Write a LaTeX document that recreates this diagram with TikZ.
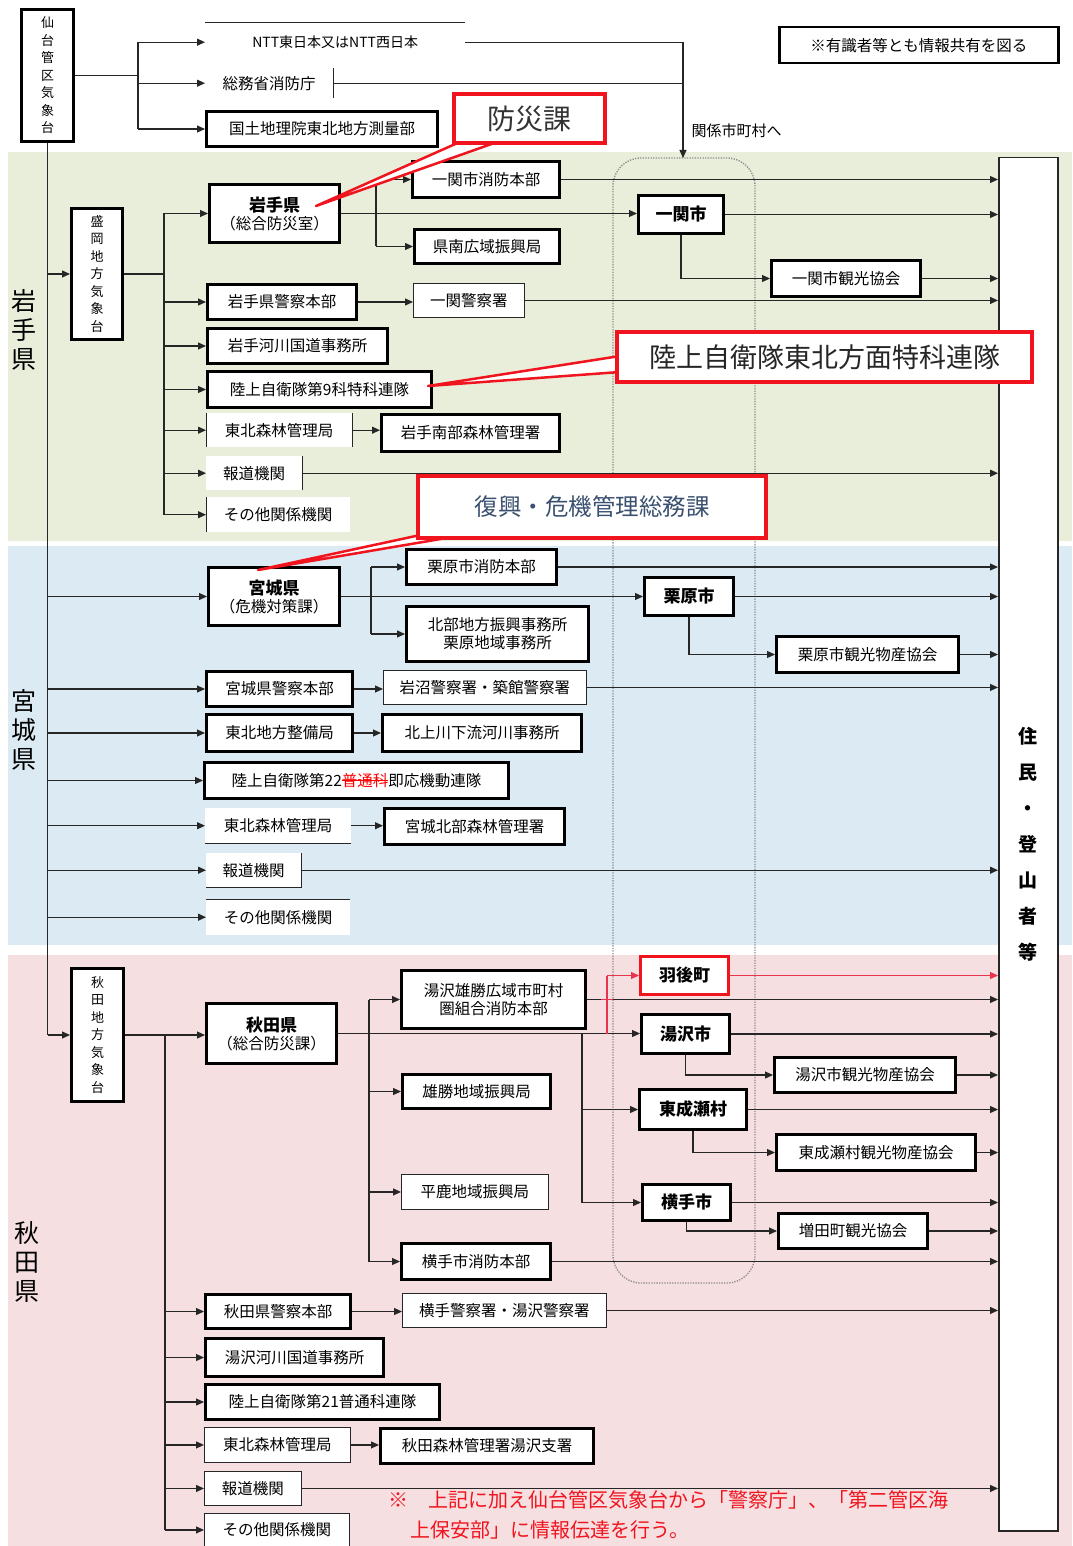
\documentclass[tikz,border=0pt]{standalone}
\usepackage{fontspec}
\setmainfont{Noto Sans CJK JP}
\usetikzlibrary{arrows.meta,calc}
\definecolor{bgG}{RGB}{232,238,218}
\definecolor{bgB}{RGB}{220,235,243}
\definecolor{bgP}{RGB}{246,223,225}
\definecolor{calRed}{RGB}{240,20,30}
\definecolor{pinkRed}{RGB}{232,52,78}
\definecolor{fukkoText}{RGB}{58,80,112}
\newcommand\bx[7]{\node[#6, anchor=north west, minimum width={(#4-#2)*1pt}, minimum height={(#5-#3)*1pt}] (#1) at (#2,#3) {#7};}
\newcommand\strk[1]{\leavevmode\setbox0\hbox{#1}\rlap{\textcolor{red}{\rule[0.33em]{\wd0}{0.9pt}}}\textcolor{red}{#1}}
\tikzset{
 boxbase/.style={inner sep=1pt, align=center, fill=white, font=\fontsize{15.5}{18}\selectfont},
 tbox/.style={boxbase, draw=black, line width=3pt},
 nbox/.style={boxbase, draw=black!85, line width=0.9pt},
 pbox/.style={boxbase},
 vbox/.style={tbox, font=\fontsize{13}{17.5}\selectfont},
 cbox/.style={tbox, font=\fontsize{17}{20}\selectfont\bfseries},
 ln/.style={line width=1.1pt, draw=black!85},
 bar/.style={line width=1pt, draw=black!85},
 arr/.style={ln, -{Triangle[length=8pt,width=7pt]}},
 redarr/.style={line width=1.1pt, draw=pinkRed, fill=pinkRed, -{Triangle[length=8pt,width=7pt]}},
 redln/.style={line width=1.1pt, draw=pinkRed},
 callbox/.style={draw=calRed, line width=4pt, fill=white, inner sep=0pt},
 cwedge/.style={draw=calRed, fill=white, line width=2.5pt, line join=round},
 region/.style={font=\fontsize{25}{29}\selectfont, align=center, inner sep=0},
 dotbox/.style={draw=black!45, line width=1.3pt, dash pattern=on 1.3pt off 1.3pt, rounded corners=28pt},
}
\begin{document}
\begin{tikzpicture}[x=1pt,y=-1pt]
\useasboundingbox (0,0) rectangle (1072,1546);
\fill[white] (0,0) rectangle (1072,1546);
\fill[bgG] (8,152) rectangle (1072,541);
\fill[bgB] (8,546) rectangle (1072,945);
\fill[bgP] (8,955) rectangle (1072,1546);
\draw[dotbox] (613,158) rectangle (755,1283);

% region labels
\node[region] (lblIwate) at (24,330) {岩\\手\\県};
\node[region] (lblMiyagi) at (24,730) {宮\\城\\県};
\node[region] (lblAkita) at (27,1262) {秋\\田\\県};

% top
\bx{sendai}{20}{8}{72}{140}{vbox}{仙\\台\\管\\区\\気\\象\\台}
\bx{ntt}{205}{23}{465}{61}{pbox, fill=none, font=\fontsize{14}{17}\selectfont}{NTT東日本又はNTT西日本}
\bx{shobo}{205}{68}{333}{98}{pbox, fill=none}{総務省消防庁}
\bx{kokudo}{205}{110}{436}{145}{tbox}{国土地理院東北地方測量部}
\bx{note}{778}{26}{1057}{62}{tbox, line width=2.5pt}{※有識者等とも情報共有を図る}
\node[anchor=west, font=\fontsize{15}{18}\selectfont] (kankei) at (688,131) {関係市町村へ};

% right box
\bx{jumin}{998}{157}{1057}{1530}{nbox, line width=1.5pt, font=\fontsize{19}{36}\selectfont\bfseries}{住\\民\\・\\登\\山\\者\\等}

% Iwate
\bx{morioka}{70}{207}{121}{338}{vbox}{盛\\岡\\地\\方\\気\\象\\台}
\bx{iwate}{208}{183}{338}{241}{tbox}{{\fontsize{17}{20}\selectfont\bfseries 岩手県}\\（総合防災室）}
\bx{ichiFD}{411}{160}{558}{196}{tbox}{一関市消防本部}
\bx{kennan}{413}{228}{558}{262}{tbox}{県南広域振興局}
\bx{ichi}{637}{194}{722}{232}{cbox}{一関市}
\bx{ichiKan}{770}{259}{919}{295}{tbox}{一関市観光協会}
\bx{iwPol}{206}{283}{355}{318}{tbox}{岩手県警察本部}
\bx{ichiPol}{413}{283}{524}{317}{nbox}{一関警察署}
\bx{iwRiver}{206}{327}{386}{362}{tbox}{岩手河川国道事務所}
\bx{jsdf9}{206}{370}{430}{406}{tbox}{陸上自衛隊第9科特科連隊}
\bx{iwForest}{206}{413}{352}{447}{pbox}{東北森林管理局}
\bx{iwForest2}{380}{413}{558}{450}{tbox}{岩手南部森林管理署}
\bx{iwPress}{206}{456}{302}{490}{pbox}{報道機関}
\bx{iwOther}{206}{497}{350}{532}{pbox}{その他関係機関}

% Miyagi
\bx{miyagi}{207}{566}{338}{624}{tbox}{{\fontsize{17}{20}\selectfont\bfseries 宮城県}\\（危機対策課）}
\bx{kuriFD}{405}{548}{555}{583}{tbox}{栗原市消防本部}
\bx{hokubu}{405}{605}{587}{660}{tbox}{北部地方振興事務所\\栗原地域事務所}
\bx{kuri}{643}{576}{732}{614}{cbox}{栗原市}
\bx{kuriKan}{775}{635}{957}{671}{tbox}{栗原市観光物産協会}
\bx{myPol}{205}{670}{351}{705}{tbox}{宮城県警察本部}
\bx{myPol2}{383}{670}{586}{704}{nbox}{岩沼警察署・築館警察署}
\bx{tohokuSeibi}{205}{713}{351}{750}{tbox}{東北地方整備局}
\bx{kitakami}{381}{713}{580}{750}{tbox}{北上川下流河川事務所}
\bx{jsdf22}{203}{761}{507}{797}{tbox}{陸上自衛隊第22\strk{普通科}即応機動連隊}
\bx{myForest}{205}{808}{351}{843}{pbox}{東北森林管理局}
\bx{myForest2}{383}{807}{563}{843}{tbox}{宮城北部森林管理署}
\bx{myPress}{206}{853}{301}{887}{pbox}{報道機関}
\bx{myOther}{206}{899}{350}{935}{pbox}{その他関係機関}

% Akita
\bx{akitaMet}{70}{967}{122}{1100}{vbox}{秋\\田\\地\\方\\気\\象\\台}
\bx{akita}{205}{1002}{335}{1062}{tbox}{{\fontsize{17}{20}\selectfont\bfseries 秋田県}\\（総合防災課）}
\bx{yuzawaFD}{400}{969}{584}{1027}{tbox}{湯沢雄勝広域市町村\\圏組合消防本部}
\bx{ogachi}{401}{1073}{549}{1107}{tbox}{雄勝地域振興局}
\bx{hiraka}{401}{1174}{548}{1209}{nbox}{平鹿地域振興局}
\bx{yokoteFD}{400}{1242}{549}{1278}{tbox}{横手市消防本部}
\bx{ugo}{639}{955}{727}{993}{cbox, draw=calRed}{羽後町}
\bx{yuzawa}{640}{1013}{728}{1052}{cbox}{湯沢市}
\bx{yuzawaKan}{773}{1056}{954}{1091}{tbox}{湯沢市観光物産協会}
\bx{higashi}{638}{1088}{745}{1128}{cbox}{東成瀬村}
\bx{higashiKan}{775}{1133}{974}{1169}{tbox}{東成瀬村観光物産協会}
\bx{yokote}{641}{1183}{729}{1219}{cbox}{横手市}
\bx{masuda}{777}{1212}{926}{1247}{tbox}{増田町観光協会}
\bx{akPol}{204}{1293}{349}{1327}{tbox}{秋田県警察本部}
\bx{akPol2}{402}{1293}{606}{1327}{nbox}{横手警察署・湯沢警察署}
\bx{akRiver}{204}{1337}{382}{1375}{tbox}{湯沢河川国道事務所}
\bx{jsdf21}{204}{1383}{438}{1418}{tbox}{陸上自衛隊第21普通科連隊}
\bx{akForest}{204}{1427}{350}{1462}{nbox}{東北森林管理局}
\bx{akForest2}{379}{1427}{592}{1462}{tbox}{秋田森林管理署湯沢支署}
\bx{akPress}{204}{1471}{301}{1505}{nbox}{報道機関}
\bx{akOther}{204}{1513}{349}{1546}{nbox}{その他関係機関}

% partial borders
\draw[bar] (ntt.north west) -- (ntt.north east);
\draw[bar] (shobo.north east) -- (shobo.south east);
\draw[bar] (iwForest.north west) -- (iwForest.south west);
\draw[bar] (iwForest.north east) -- (iwForest.south east);
\draw[bar] (iwPress.north east) -- (iwPress.south east);
\draw[bar] (iwOther.north west) -- (iwOther.south west);
\draw[bar] (myForest.south west) -- (myForest.south east);
\draw[bar] (myPress.south west) -- (myPress.south east) -- (myPress.north east);
\draw[bar] (myOther.north west) -- (myOther.north east);

% coordinates
\coordinate (sb) at (138,74);
\coordinate (dotTop) at (683,158);
\coordinate (ti) at (164,0);
\coordinate (bi) at (376,0);
\coordinate (bm) at (371,0);
\coordinate (ta) at (165,0);
\coordinate (ba) at (369,0);
\coordinate (bc) at (582,0);
\coordinate (rb) at (607,0);

% top connectors
\draw[ln] (sendai.east) -- (sendai.east -| sb);
\draw[ln] (sb |- ntt.west) -- (sb |- kokudo.west);
\draw[arr] (sb |- ntt.west) -- (ntt.west);
\draw[arr] (sb |- shobo.west) -- (shobo.west);
\draw[arr] (sb |- kokudo.west) -- (kokudo.west);
\draw[ln] (ntt.east) -- (ntt.east -| dotTop);
\draw[arr] (ntt.east -| dotTop) -- (dotTop);
\draw[ln] (shobo.east) -- (shobo.east -| dotTop);

% main trunk
\draw[ln] (sendai.south) -- (sendai.south |- akitaMet.west);
\draw[arr] (sendai.south |- morioka.west) -- (morioka.west);
\draw[arr] (sendai.south |- miyagi.west) -- (miyagi.west);
\draw[arr] (sendai.south |- myPol.west) -- (myPol.west);
\draw[arr] (sendai.south |- tohokuSeibi.west) -- (tohokuSeibi.west);
\draw[arr] (sendai.south |- jsdf22.west) -- (jsdf22.west);
\draw[arr] (sendai.south |- myForest.west) -- (myForest.west);
\draw[arr] (sendai.south |- myPress.west) -- (myPress.west);
\draw[arr] (sendai.south |- myOther.west) -- (myOther.west);
\draw[arr] (sendai.south |- akitaMet.west) -- (akitaMet.west);

% Iwate connectors
\draw[ln] (morioka.east) -- (morioka.east -| ti);
\draw[ln] (ti |- iwate.west) -- (ti |- iwOther.west);
\foreach \n in {iwate,iwPol,iwRiver,jsdf9,iwForest,iwPress,iwOther}
  \draw[arr] (ti |- \n.west) -- (\n.west);
\draw[arr] (iwate.east) -- (iwate.east -| ichi.west);
\draw[ln] (bi |- ichiFD.west) -- (bi |- kennan.west);
\draw[arr] (bi |- ichiFD.west) -- (ichiFD.west);
\draw[arr] (bi |- kennan.west) -- (kennan.west);
\draw[arr] (ichiFD.east) -- (ichiFD.east -| jumin.west);
\draw[arr] (ichi.east) -- (ichi.east -| jumin.west);
\draw[arr] (ichi.south) |- (ichiKan.west);
\draw[arr] (ichiKan.east) -- (ichiKan.east -| jumin.west);
\draw[arr] (iwPol.east) -- (iwPol.east -| ichiPol.west);
\draw[arr] (ichiPol.east) -- (ichiPol.east -| jumin.west);
\draw[arr] (iwForest.east) -- (iwForest.east -| iwForest2.west);
\draw[arr] (iwPress.east) -- (iwPress.east -| jumin.west);

% Miyagi connectors
\draw[arr] (miyagi.east) -- (miyagi.east -| kuri.west);
\draw[ln] (bm |- kuriFD.west) -- (bm |- hokubu.west);
\draw[arr] (bm |- kuriFD.west) -- (kuriFD.west);
\draw[arr] (bm |- hokubu.west) -- (hokubu.west);
\draw[arr] (kuriFD.east) -- (kuriFD.east -| jumin.west);
\draw[arr] (kuri.east) -- (kuri.east -| jumin.west);
\draw[arr] (kuri.south) |- (kuriKan.west);
\draw[arr] (kuriKan.east) -- (kuriKan.east -| jumin.west);
\draw[arr] (myPol.east) -- (myPol.east -| myPol2.west);
\draw[arr] (myPol2.east) -- (myPol2.east -| jumin.west);
\draw[arr] (tohokuSeibi.east) -- (tohokuSeibi.east -| kitakami.west);
\draw[arr] (myForest.east) -- (myForest.east -| myForest2.west);
\draw[arr] (myPress.east) -- (myPress.east -| jumin.west);

% Akita connectors
\draw[arr] (akitaMet.east) -- (akitaMet.east -| akita.west);
\draw[ln] (ta |- akitaMet.east) -- (ta |- akOther.west);
\foreach \n in {akPol,akRiver,jsdf21,akForest,akPress,akOther}
  \draw[arr] (ta |- \n.west) -- (\n.west);
\draw[arr] (akita.east) -- (akita.east -| yuzawa.west);
\draw[ln] (ba |- yuzawaFD.west) -- (ba |- yokoteFD.west);
\foreach \n in {yuzawaFD,ogachi,hiraka,yokoteFD}
  \draw[arr] (ba |- \n.west) -- (\n.west);
\draw[ln] (bc |- akita.east) -- (bc |- yokote.west);
\draw[arr] (bc |- higashi.west) -- (higashi.west);
\draw[arr] (bc |- yokote.west) -- (yokote.west);
\draw[arr] (yuzawaFD.east) -- (yuzawaFD.east -| jumin.west);
\draw[redln] (rb |- akita.east) -- (rb |- ugo.west);
\draw[redarr] (rb |- ugo.west) -- (ugo.west);
\draw[redln] ($(rb |- yuzawaFD.east)+(-6,0)$) -- ($(rb |- yuzawaFD.east)+(6,0)$);
\draw[redarr] (ugo.east) -- (ugo.east -| jumin.west);
\draw[arr] (yuzawa.east) -- (yuzawa.east -| jumin.west);
\draw[arr] (yuzawa.south) |- (yuzawaKan.west);
\draw[arr] (yuzawaKan.east) -- (yuzawaKan.east -| jumin.west);
\draw[arr] (higashi.east) -- (higashi.east -| jumin.west);
\draw[arr] (higashi.south) |- (higashiKan.west);
\draw[arr] (higashiKan.east) -- (higashiKan.east -| jumin.west);
\draw[arr] (yokote.east) -- (yokote.east -| jumin.west);
\draw[arr] (yokote.south) |- (masuda.west);
\draw[arr] (masuda.east) -- (masuda.east -| jumin.west);
\draw[arr] (yokoteFD.east) -- (yokoteFD.east -| jumin.west);
\draw[arr] (akPol.east) -- (akPol.east -| akPol2.west);
\draw[arr] (akPol2.east) -- (akPol2.east -| jumin.west);
\draw[arr] (akForest.east) -- (akForest.east -| akForest2.west);
\draw[arr] (akPress.east) -- (akPress.east -| jumin.west);

% red note
\node[anchor=north west, font=\fontsize{20}{30}\selectfont, text=calRed, align=left, inner sep=0] (redNote) at (388,1490) {※　上記に加え仙台管区気象台から「警察庁」、「第二管区海\\\hspace*{22pt}上保安部」に情報伝達を行う。};

% callouts
\filldraw[cwedge] (316,206) -- (462,141) -- (500,141) -- cycle;
\bx{bousai}{452}{92}{603}{141}{callbox, font=\fontsize{28}{32}\selectfont, text=black!80}{防災課}
\filldraw[cwedge] (428,386) -- (620,356) -- (620,372) -- cycle;
\bx{tokka}{615}{330}{1030}{380}{callbox, font=\fontsize{27}{31}\selectfont, text=black!85}{陸上自衛隊東北方面特科連隊}
\filldraw[cwedge] (258,570) -- (425,534) -- (470,534) -- cycle;
\bx{fukko}{416}{474}{764}{536}{callbox, font=\fontsize{23.5}{27}\selectfont, text=fukkoText}{復興・危機管理総務課}
\end{tikzpicture}
\end{document}
